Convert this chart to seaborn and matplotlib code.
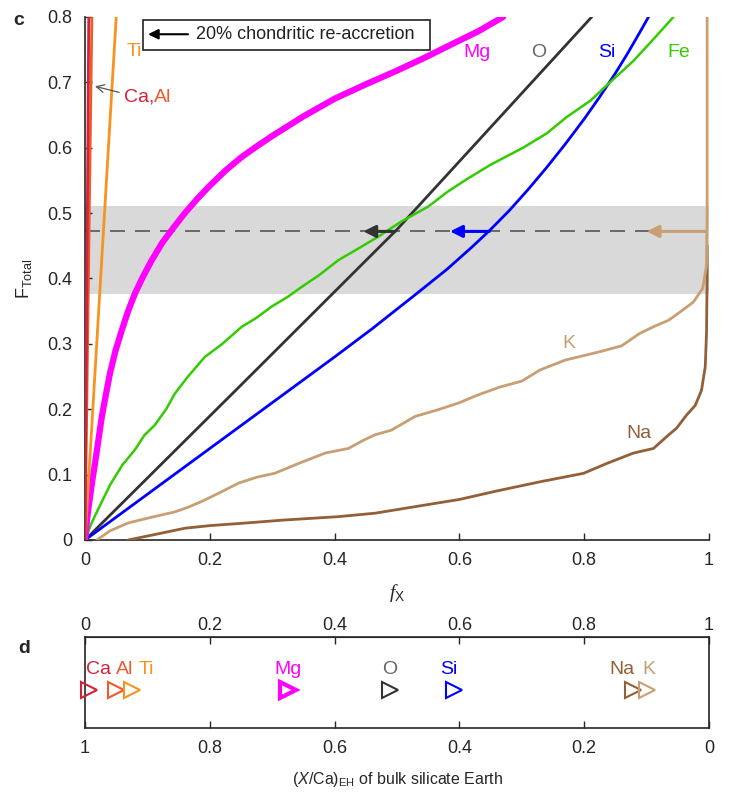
import numpy as np
import pandas as pd
import matplotlib
matplotlib.use('Agg')
import matplotlib.pyplot as plt
import seaborn as sns
from matplotlib.ticker import FuncFormatter
from matplotlib.patches import Rectangle

# ---- data ----
# panel c: F_Total vs f_X
mg_x = [0, 0.002, 0.005, 0.008, 0.012, 0.016, 0.021, 0.027, 0.033, 0.04, 0.049, 0.059, 0.069, 0.08, 0.093, 0.107,
        0.124, 0.142, 0.16, 0.18, 0.2, 0.225, 0.25, 0.275, 0.3, 0.35, 0.4, 0.45, 0.5, 0.545, 0.585, 0.63, 0.67]
mg_y = [0, 0.02, 0.045, 0.066, 0.093, 0.117, 0.15, 0.189, 0.22, 0.255, 0.29, 0.321, 0.35, 0.377, 0.403, 0.428,
        0.455, 0.478, 0.5, 0.522, 0.542, 0.565, 0.585, 0.602, 0.618, 0.648, 0.675, 0.697, 0.718, 0.738, 0.757, 0.778, 0.8]

o_x = [0, 0.25, 0.5, 0.812]
o_y = [0, 0.237, 0.475, 0.8]

si_x = [0, 0.1, 0.2, 0.3, 0.4, 0.46, 0.529, 0.58, 0.62, 0.649, 0.68, 0.71, 0.74, 0.77, 0.8, 0.825, 0.85, 0.87, 0.89, 0.903]
si_y = [0, 0.07, 0.14, 0.21, 0.28, 0.323, 0.375, 0.414, 0.448, 0.474, 0.504, 0.536, 0.57, 0.606, 0.644, 0.678, 0.714,
        0.745, 0.778, 0.8]

fe_x = [0, 0.01, 0.02, 0.04, 0.06, 0.08, 0.095, 0.112, 0.13, 0.144, 0.165, 0.192, 0.22, 0.251, 0.275, 0.299, 0.325,
        0.347, 0.375, 0.406, 0.44, 0.47, 0.505, 0.55, 0.58, 0.612, 0.65, 0.702, 0.74, 0.772, 0.81, 0.839, 0.879, 0.91, 0.943]
fe_y = [0, 0.025, 0.045, 0.084, 0.115, 0.138, 0.16, 0.176, 0.2, 0.224, 0.25, 0.28, 0.3, 0.326, 0.34, 0.357, 0.372,
        0.387, 0.405, 0.428, 0.447, 0.464, 0.486, 0.51, 0.532, 0.552, 0.574, 0.6, 0.622, 0.647, 0.672, 0.698, 0.733, 0.765, 0.8]

k_x = [0.019, 0.04, 0.069, 0.09, 0.112, 0.144, 0.165, 0.187, 0.215, 0.246, 0.275, 0.304, 0.342, 0.385, 0.422, 0.445,
       0.465, 0.491, 0.529, 0.565, 0.6, 0.63, 0.665, 0.7, 0.729, 0.769, 0.825, 0.86, 0.889, 0.913, 0.935, 0.954, 0.975,
       0.99, 0.996, 0.997, 0.997]
k_y = [0, 0.014, 0.026, 0.031, 0.036, 0.043, 0.05, 0.059, 0.072, 0.087, 0.096, 0.102, 0.117, 0.133, 0.14, 0.152,
       0.161, 0.168, 0.189, 0.199, 0.21, 0.222, 0.234, 0.243, 0.26, 0.275, 0.288, 0.297, 0.316, 0.327, 0.336, 0.349, 0.364,
       0.385, 0.42, 0.5, 0.8]

na_x = [0.069, 0.11, 0.16, 0.2, 0.251, 0.32, 0.406, 0.465, 0.529, 0.6, 0.66, 0.729, 0.799, 0.836, 0.879, 0.911, 0.932,
        0.948, 0.964, 0.978, 0.988, 0.994, 0.996, 0.997, 0.997]
na_y = [0, 0.008, 0.018, 0.022, 0.0255, 0.0306, 0.0357, 0.041, 0.051, 0.062, 0.075, 0.089, 0.102, 0.117, 0.133, 0.14,
        0.158, 0.171, 0.191, 0.206, 0.229, 0.265, 0.316, 0.4, 0.45]

ti_x = [0, 0.05]
ti_y = [0, 0.8]
al_x = [0, 0.011]
al_y = [0, 0.8]
ca_x = [0, 0.006]
ca_y = [0, 0.8]

band = (0.377, 0.511)     # shaded range of F_Total
f_line = 0.472            # dashed line
# re-accretion arrows (tail -> tip along the dashed line)
arrows = [(0.497, 0.446, '#333333'), (0.648, 0.585, '#0000FF'), (0.996, 0.9, '#C89F73')]

# panel d: (X/Ca)_EH of bulk silicate Earth
elements = ['Ca', 'Al', 'Ti', 'Mg', 'O', 'Si', 'Na', 'K']
xca = [0.993, 0.951, 0.924, 0.675, 0.512, 0.409, 0.121, 0.100]

colors = {'Ca': '#D2233C', 'Al': '#F05A28', 'Ti': '#F7931E', 'Mg': '#FF00FF', 'O': '#333333',
          'Si': '#0000FF', 'Fe': '#33CC00', 'Na': '#925F37', 'K': '#C89F73'}
label_colors = dict(colors, O='#666666')

sns.set_style('ticks')
plt.rcParams['font.family'] = ['Liberation Sans', 'DejaVu Sans']
plt.rcParams['mathtext.fontset'] = 'custom'
plt.rcParams['mathtext.rm'] = 'Liberation Sans'
plt.rcParams['mathtext.it'] = 'Liberation Sans:italic'
plt.rcParams['mathtext.sf'] = 'Liberation Sans'
plt.rcParams['mathtext.cal'] = 'Liberation Serif:italic'

fig = plt.figure(figsize=(7.31, 8.05), dpi=100)
ax = fig.add_axes([0.1163, 0.3292, 0.8536, 0.6497])
ax2 = fig.add_axes([0.1163, 0.0957, 0.8536, 0.113])

# ---- panel c ----
ax.axhspan(band[0], band[1], color='#D9D9D9', lw=0, zorder=0)
ax.axhline(f_line, color='#555555', lw=1.2, ls=(0, (9, 6)), zorder=1)

curves = [
    ('Na', na_x, na_y, 2.0),
    ('K', k_x, k_y, 2.0),
    ('O', o_x, o_y, 2.0),
    ('Si', si_x, si_y, 2.0),
    ('Fe', fe_x, fe_y, 1.8),
    ('Mg', mg_x, mg_y, 4.5),
    ('Ti', ti_x, ti_y, 2.0),
    ('Al', al_x, al_y, 2.0),
    ('Ca', ca_x, ca_y, 2.0),
]
for name, xs, ys, lw in curves:
    df = pd.DataFrame({'fx': xs, 'F': ys})
    sns.lineplot(data=df, x='fx', y='F', ax=ax, color=colors[name], lw=lw,
                 sort=False, estimator=None, zorder=3)

for tail, tip, c in arrows:
    ax.annotate('', xy=(tip, f_line), xytext=(tail, f_line),
                arrowprops=dict(arrowstyle='-|>', color=c, lw=2.2, mutation_scale=18,
                                shrinkA=0, shrinkB=0), zorder=5)

ax.set_xlim(0, 1)
ax.set_ylim(0, 0.8)
ax.set_xticks(np.arange(0, 1.01, 0.2))
ax.set_yticks(np.arange(0, 0.81, 0.1))
fmt = FuncFormatter(lambda v, p: '%g' % round(v, 2))
ax.xaxis.set_major_formatter(fmt)
ax.yaxis.set_major_formatter(fmt)
ax.tick_params(direction='in', length=5, width=1, labelsize=13, pad=9)
sns.despine(ax=ax)
for s in ['left', 'bottom']:
    ax.spines[s].set_linewidth(1.2)
ax.set_xlabel(r'$\mathcal{f}_{\mathsf{X}}$', fontsize=14, labelpad=9)
ax.set_ylabel(r'F$_{\mathrm{Total}}$', fontsize=13, labelpad=10)

# curve labels
ax.text(0.628, 0.746, 'Mg', color=label_colors['Mg'], fontsize=14, ha='center', va='center')
ax.text(0.727, 0.746, 'O', color=label_colors['O'], fontsize=14, ha='center', va='center')
ax.text(0.836, 0.746, 'Si', color=label_colors['Si'], fontsize=14, ha='center', va='center')
ax.text(0.951, 0.746, 'Fe', color=label_colors['Fe'], fontsize=14, ha='center', va='center')
ax.text(0.775, 0.301, 'K', color=label_colors['K'], fontsize=14, ha='center', va='center')
ax.text(0.887, 0.163, 'Na', color=label_colors['Na'], fontsize=14, ha='center', va='center')
ax.text(0.066, 0.747, 'Ti', color=label_colors['Ti'], fontsize=14, ha='left', va='center')
t_ca = ax.annotate('Ca,', xy=(0.016, 0.694), xytext=(0.062, 0.677), color=label_colors['Ca'],
                   fontsize=14, va='center', ha='left',
                   arrowprops=dict(arrowstyle='->', color='#555555', lw=0.9, shrinkA=1, shrinkB=0))
ax.annotate('Al', xy=(1, 0), xycoords=t_ca, va='bottom', ha='left', color=label_colors['Al'], fontsize=14)

# re-accretion key
ax.add_patch(Rectangle((0.0924, 0.936), 0.4606, 0.058, transform=ax.transAxes, fill=False,
                       ec='#222222', lw=1.2, zorder=6, clip_on=False))
ax.annotate('', xy=(0.101, 0.967), xytext=(0.165, 0.967), xycoords='axes fraction',
            arrowprops=dict(arrowstyle='-|>', color='black', lw=1.5, mutation_scale=15,
                            shrinkA=0, shrinkB=0), zorder=7)
ax.text(0.178, 0.967, '20% chondritic re-accretion', transform=ax.transAxes, fontsize=13,
        va='center', ha='left', color='#222222', zorder=7)

# ---- panel d ----
for el, v in zip(elements, xca):
    ax2.plot([v], [0.417], ls='none', marker='>', ms=11, mfc='none', mec=colors[el],
             mew=3 if el == 'Mg' else 1.5, clip_on=False, zorder=4)

lab_x = {'Ca': 0.978, 'Al': 0.937, 'Ti': 0.901, 'Mg': 0.675, 'O': 0.512, 'Si': 0.417, 'Na': 0.14, 'K': 0.096}
for el in elements:
    ax2.text(lab_x[el], 0.638, el, color=label_colors[el], fontsize=14, ha='center', va='center')

ax2.set_xlim(1, 0)
ax2.set_ylim(0, 1)
ax2.set_yticks([])
ax2.set_xticks(np.arange(0, 1.01, 0.2))
ax2.xaxis.set_major_formatter(fmt)
ax2.tick_params(direction='in', length=5, width=1, labelsize=13, pad=9)
for s in ax2.spines.values():
    s.set_linewidth(1.2)
sec = ax2.secondary_xaxis('top', functions=(lambda v: 1 - v, lambda v: 1 - v))
sec.set_xticks(np.arange(0, 1.01, 0.2))
sec.xaxis.set_major_formatter(fmt)
sec.tick_params(direction='in', length=5, width=1, labelsize=13, pad=2)
ax2.set_xlabel(r'($\mathit{X}$/Ca)$_{\mathrm{EH}}$ of bulk silicate Earth', fontsize=11.5, labelpad=9)

fig.text(0.026, 0.975, 'c', fontsize=14, weight='bold', ha='center', va='center')
fig.text(0.033, 1 - 648 / 805, 'd', fontsize=14, weight='bold', ha='center', va='center')

fig.savefig('out.png', dpi=100)
